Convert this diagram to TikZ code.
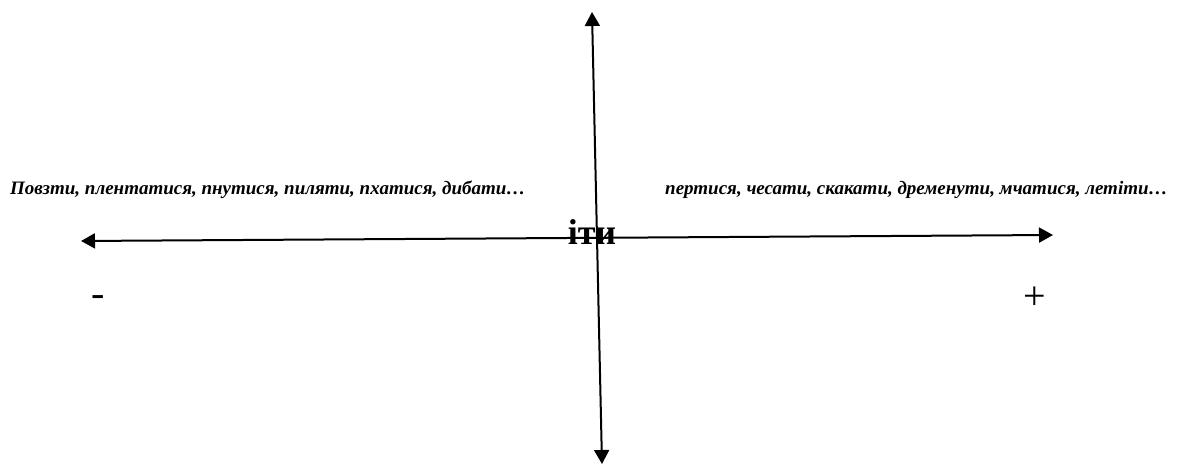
\documentclass[tikz,border=0pt]{standalone}
\usepackage{fontspec}
\setmainfont{Liberation Serif}
\usetikzlibrary{arrows.meta, positioning}

\begin{document}
\begin{tikzpicture}[
    x=1pt, y=-1pt,
    axis/.style={{Triangle[length=14pt, width=15pt]}-{Triangle[length=14pt, width=15pt]}, line width=2pt},
    verbs/.style={font=\fontsize{19}{21}\selectfont\bfseries\itshape, anchor=west, inner sep=0pt},
    center/.style={font=\fontsize{36}{38}\selectfont\bfseries, inner sep=0pt},
    sign/.style={font=\fontsize{40}{42}\selectfont, inner sep=0pt}
]
\useasboundingbox (0,0) rectangle (1181,465);

% axis ends
\coordinate (west) at (81,241);
\coordinate (east) at (1053,235);
\coordinate (north) at (592,12);
\coordinate (south) at (602,464);

\draw[axis] (west) -- (east);
\draw[axis] (north) -- (south);

% labels
\node[verbs] (slow) at (10,190) {Повзти, плентатися, пнутися, пиляти, пхатися, дибати…};
\node[verbs] (fast) at (665,190) {пертися, чесати, скакати, дременути,  мчатися, летіти…};
\node[center] (go) at (592,232) {іти};
\node[sign] (minus) at (98,301) {-};
\node[sign] (plus) at (1035,298) {+};

\end{tikzpicture}
\end{document}
